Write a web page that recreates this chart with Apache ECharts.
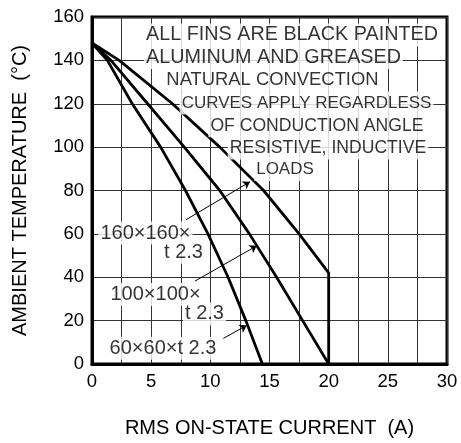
<!DOCTYPE html>
<html>
<head>
<meta charset="utf-8">
<script src="https://cdn.jsdelivr.net/npm/echarts@6/dist/echarts.min.js"></script>
<style>
html,body{margin:0;padding:0;background:#fff;}
#chart{width:461px;height:443px;}
</style>
</head>
<body>
<div id="chart"></div>
<script>
// ---- data ----
const curve60x60 = [[0,148],[1.3,140],[3.4,120],[5.8,100],[7.9,80],[9.8,60],[11.5,40],[13.0,20],[14.4,0]];
const curve100x100 = [[0,148],[1.6,140],[4.7,120],[7.8,100],[10.8,80],[13.3,60],[15.6,40],[17.8,20],[20,0]];
const curve160x160 = [[0,148],[2.3,140],[6.8,120],[10.8,100],[14.5,80],[17.5,60],[20,42],[20,0]];

const noteLines = ['ALL FINS ARE BLACK PAINTED','ALUMINUM AND GREASED','NATURAL CONVECTION',
  'CURVES APPLY REGARDLESS','OF CONDUCTION ANGLE','RESISTIVE, INDUCTIVE','LOADS'];
const noteAnchors = [[16.9,151.7],[15.34,141.3],[15.25,131.0],[18.13,120.4],[19.01,109.9],[19.94,99.6],[16.31,89.7]];

const curveLabels = ['160×160×','t 2.3','100×100×','t 2.3','60×60×t 2.3'];
const curveLabelAnchors = [[4.52,60.4],[7.73,51.5],[5.37,32.0],[9.51,23.1],[6.0,7.3]];

const leaders = [
  [[7.94,66.5],[13.35,84.0]],
  [[8.70,38.2],[13.92,54.5]],
  [[11.10,11.8],[13.07,17.8]]
];

const xName = 'RMS ON-STATE CURRENT  (A)';
const yName = 'AMBIENT TEMPERATURE  (°C)';

// ---- styles ----
const FONT = 'Liberation Sans, Arial, Helvetica, sans-serif';
const noteSizes = [19.8, 19.8, 18.4, 17.0, 17.6, 17.6, 17.0];
const curveLabelSizes = [20, 20, 20, 20, 20];

const chart = echarts.init(document.getElementById('chart'));

function textSeries(names, anchors, sizes) {
  return {
    type: 'scatter',
    silent: true,
    symbolSize: 0,
    z: 5,
    data: anchors.map((a, i) => ({
      value: a, name: names[i],
      label: { fontSize: sizes[i] }
    })),
    label: {
      show: true,
      position: 'inside',
      formatter: p => p.name,
      color: '#000',
      fontFamily: FONT,
      lineHeight: 21,
      backgroundColor: '#fff',
      padding: [1, 2, 1, 2]
    }
  };
}

const curveStyle = { color: '#000', width: 2.8 };

chart.setOption({
  animation: false,
  backgroundColor: '#fff',
  grid: { left: 92, right: 14, top: 17, bottom: 70, show: true, borderColor: '#000', borderWidth: 3 },
  xAxis: {
    type: 'value', min: 0, max: 30, interval: 2.5,
    name: xName, nameLocation: 'middle', nameGap: 54,
    nameTextStyle: { fontFamily: FONT, fontSize: 20, color: '#000' },
    axisLine: { show: true, lineStyle: { color: '#000', width: 3 } },
    axisTick: { show: false },
    axisLabel: { fontFamily: FONT, fontSize: 18.5, color: '#000', margin: 8,
      formatter: v => (v % 5 === 0 ? String(v) : '') },
    splitLine: { show: true, lineStyle: { color: '#333', width: 1 } }
  },
  yAxis: {
    type: 'value', min: 0, max: 160, interval: 20,
    name: yName, nameLocation: 'middle', nameGap: 62,
    nameTextStyle: { fontFamily: FONT, fontSize: 20, color: '#000' },
    axisLine: { show: true, lineStyle: { color: '#000', width: 3 } },
    axisTick: { show: false },
    axisLabel: { fontFamily: FONT, fontSize: 18.5, color: '#000', margin: 8 },
    splitLine: { show: true, lineStyle: { color: '#333', width: 1 } }
  },
  series: [
    { type: 'line', data: curve60x60, symbol: 'none', lineStyle: curveStyle, z: 3 },
    { type: 'line', data: curve100x100, symbol: 'none', lineStyle: curveStyle, z: 3 },
    { type: 'line', data: curve160x160, symbol: 'none', lineStyle: curveStyle, z: 3,
      markLine: {
        silent: true,
        symbol: ['none', 'arrow'],
        symbolSize: 7,
        label: { show: false },
        lineStyle: { color: '#000', width: 1, type: 'solid' },
        data: leaders.map(l => [{ coord: l[0] }, { coord: l[1] }])
      }
    },
    textSeries(noteLines, noteAnchors, noteSizes),
    textSeries(curveLabels, curveLabelAnchors, curveLabelSizes)
  ]
});
</script>
</body>
</html>
